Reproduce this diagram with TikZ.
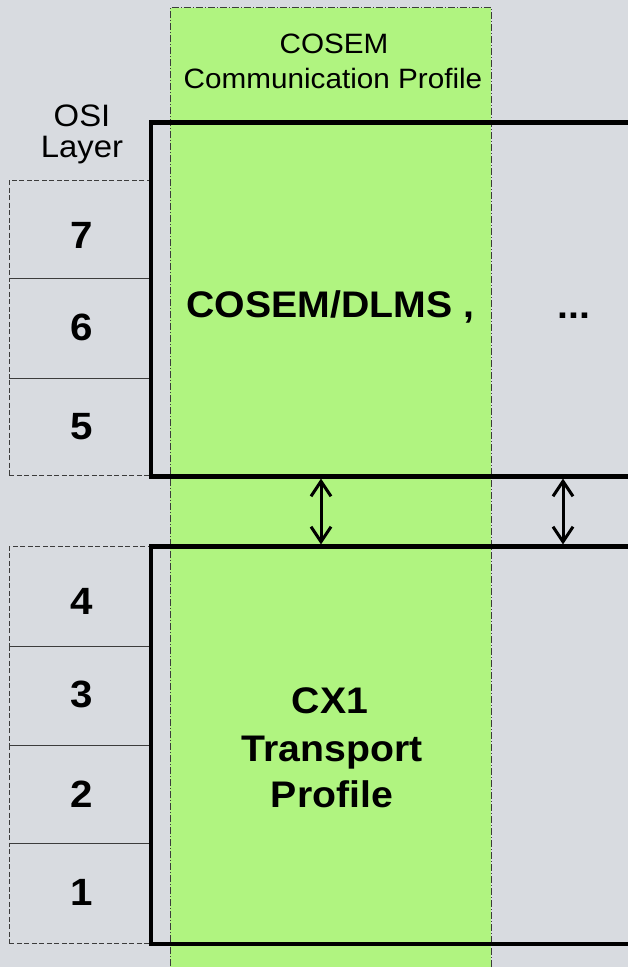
\documentclass[tikz,border=0pt]{standalone}
\usepackage{fontspec}
\setmainfont{Liberation Sans}[FakeStretch=1.06]
\usetikzlibrary{arrows.meta}
\definecolor{bggray}{RGB}{216,219,224}
\definecolor{profgreen}{RGB}{176,244,128}
\definecolor{edgegray}{RGB}{60,60,60}
\begin{document}
\begin{tikzpicture}[x=1pt,y=-1pt,
  layerbox/.style={draw=edgegray, line width=0.9pt, dash pattern=on 5pt off 2.5pt,
    anchor=north west, minimum width=142pt, inner sep=0pt, outer sep=0pt},
  digit/.style={anchor=base, font=\fontsize{38}{44}\selectfont\bfseries},
  plain/.style={anchor=base, font=\fontsize{28}{32}\selectfont},
  ositxt/.style={anchor=base, font=\fontsize{31}{36}\selectfont},
  boldtxt/.style={anchor=base, font=\fontsize{37}{45}\selectfont\bfseries},
  stackframe/.style={draw=black, line width=4.2pt},
  conn/.style={draw=black, line width=3pt,
    {Straight Barb[length=15pt,width=20pt,line width=3pt]}-{Straight Barb[length=15pt,width=20pt,line width=3pt]}},
  profileedge/.style={draw=edgegray, line width=0.8pt,
    dash pattern=on 7pt off 2pt on 1pt off 2pt}]

% canvas
\fill[bggray] (0,0) rectangle (628,967);
\useasboundingbox (0,0) rectangle (628,967);
\clip (0,0) rectangle (628,967);

% COSEM communication profile column
\fill[profgreen] (170,7.5) rectangle (491,990);
\draw[profileedge] (170,990) -- (170,7.5) -- (491,7.5) -- (491,990);
\node[plain] (proftitle1) at (334,53) {COSEM};
\node[plain] (proftitle2) at (333,88) {Communication Profile};

% OSI layer column
\node[ositxt] (osi1) at (82,126) {OSI};
\node[ositxt] (osi2) at (82,157) {Layer};

\node[layerbox, minimum height=98.3pt] (l7) at (9.3,180) {};
\node[layerbox, minimum height=100pt]  (l6) at (9.3,278.3) {};
\node[layerbox, minimum height=96.7pt] (l5) at (9.3,378.3) {};
\draw[edgegray, line width=0.9pt] (l6.south west) -- (l6.south east);

\node[layerbox, minimum height=99.3pt] (l4) at (9.3,546.7) {};
\node[layerbox, minimum height=99pt]   (l3) at (9.3,646) {};
\node[layerbox, minimum height=98.3pt] (l2) at (9.3,745) {};
\node[layerbox, minimum height=100pt]  (l1) at (9.3,843.3) {};
\draw[edgegray, line width=0.9pt] (l3.south west) -- (l3.south east);

\node[digit] (d7) at (82,248) {7};
\node[digit] (d6) at (82,340) {6};
\node[digit] (d5) at (82,439) {5};
\node[digit] (d4) at (82,614) {4};
\node[digit] (d3) at (82,707) {3};
\node[digit] (d2) at (82,807) {2};
\node[digit] (d1) at (82,905) {1};

% application stack frame (open to the right)
\coordinate (appNE) at (660,122.5);
\coordinate (appNW) at (151.3,122.5);
\coordinate (appSW) at (151.3,476.5);
\coordinate (appSE) at (660,476.5);
\draw[stackframe] (appNE) -- (appNW) -- (appSW) -- (appSE);

% transport stack frame (open to the right)
\coordinate (trNE) at (660,546.5);
\coordinate (trNW) at (151.3,546.5);
\coordinate (trSW) at (151.3,944);
\coordinate (trSE) at (660,944);
\draw[stackframe] (trNE) -- (trNW) -- (trSW) -- (trSE);

\node[boldtxt, anchor=base west] (cosemdlms) at (183,317) {COSEM/DLMS ,};
\node[boldtxt] (more) at (574,318) {...};

\node[boldtxt] (cx1a) at (330,713) {CX1};
\node[boldtxt] (cx1b) at (332,761) {Transport};
\node[boldtxt] (cx1c) at (332,807) {Profile};

% interfaces between the two stacks
\coordinate (ifaceA1) at (321,478.6);
\coordinate (ifaceA2) at (321,544.4);
\coordinate (ifaceB1) at (563,478.6);
\coordinate (ifaceB2) at (563,544.4);
\draw[conn] (ifaceA1) -- (ifaceA2);
\draw[conn] (ifaceB1) -- (ifaceB2);
\end{tikzpicture}
\end{document}
